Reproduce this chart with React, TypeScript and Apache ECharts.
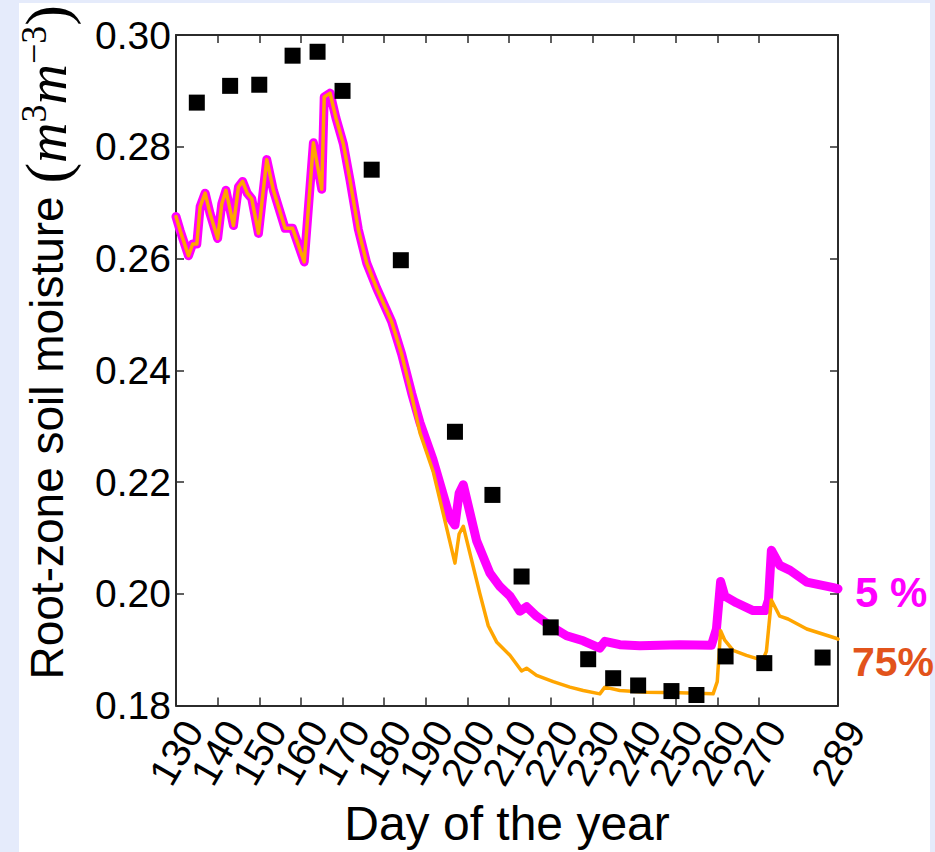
import React, { useEffect, useRef } from "react";
import * as echarts from "echarts";

// X tick positions and labels on the day axis
const xTickValues = [130, 140, 150, 160, 170, 180, 190, 200, 210, 220, 230, 240, 250, 260, 270, 289];
// labels split over two overlaid axes so ECharts does not drop overlapping rotated labels
const xLabelsA = [130, 150, 170, 190, 210, 230, 250, 270];
const xLabelsB = [140, 160, 180, 200, 220, 240, 260, 289];

// Observed root-zone soil moisture (black squares)
const obsDays = [135, 143, 150, 158, 164, 170, 177, 184, 197, 206, 213, 220, 229, 235, 241, 249, 255, 262, 271.3, 285.3];
const obsVals = [0.2879, 0.2909, 0.2911, 0.2963, 0.2970, 0.2900, 0.2759, 0.2597, 0.2290, 0.2177, 0.2031, 0.1940, 0.1883, 0.1849, 0.1836, 0.1826, 0.1819, 0.1888, 0.1876, 0.1886];

// Simulated part shared by both runs (days 130-184)
const sharedDays = [130, 131, 133, 134, 135, 135.8, 137, 138.2, 140, 141, 142, 143.8, 145, 146, 147.1, 148.2, 149.8, 151.8, 153.4, 156.2, 158, 160.8, 163, 165, 165.6, 167, 168.4, 170.2, 171.8, 173.8, 175.8, 178.2, 181.8, 184.2];
const sharedVals = [0.2675, 0.2650, 0.2605, 0.2626, 0.2626, 0.2693, 0.2717, 0.2680, 0.2636, 0.2698, 0.2722, 0.2659, 0.2728, 0.2738, 0.2717, 0.2707, 0.2645, 0.2777, 0.2722, 0.2654, 0.2654, 0.2594, 0.2807, 0.2724, 0.2889, 0.2896, 0.2852, 0.2805, 0.2740, 0.2652, 0.2592, 0.2547, 0.2487, 0.2429];

// 5 % run, after the shared part
const p5Days = [186.6, 188.6, 191.7, 195.8, 197, 198, 199, 202.2, 205.4, 207.8, 210.2, 212.6, 214.2, 216.6, 219.8, 223.8, 227.8, 231.8, 233, 236.6, 241.4, 251, 258.6, 259.8, 260.8, 261.8, 264.6, 268.6, 271.5, 272.3, 273, 275, 277.5, 281.5, 287.9, 289];
const p5Vals = [0.2359, 0.2306, 0.2241, 0.2136, 0.2123, 0.2180, 0.2195, 0.2095, 0.2037, 0.2013, 0.1996, 0.1969, 0.1977, 0.1960, 0.1943, 0.1925, 0.1916, 0.1903, 0.1915, 0.1909, 0.1907, 0.1909, 0.1908, 0.1937, 0.2022, 0.1996, 0.1984, 0.1970, 0.1970, 0.1989, 0.2078, 0.2051, 0.2042, 0.2021, 0.2011, 0.2009];

// 75 % run, after the shared part
const p75Days = [186.6, 188.6, 191.8, 194.2, 197, 198, 199, 203, 205, 207, 210.2, 213, 214.2, 216.6, 220.6, 224.6, 227.8, 231.8, 233, 236.6, 243, 251, 259, 260, 260.8, 261.8, 263.8, 267, 270.9, 271.8, 273, 275, 277, 281.5, 288.7, 289];
const p75Vals = [0.2355, 0.2288, 0.2218, 0.2143, 0.2055, 0.2107, 0.2121, 0.2000, 0.1943, 0.1914, 0.1890, 0.1862, 0.1867, 0.1854, 0.1843, 0.1833, 0.1827, 0.1821, 0.1833, 0.1827, 0.1824, 0.1823, 0.1821, 0.1843, 0.1934, 0.1917, 0.1899, 0.1890, 0.1881, 0.1897, 0.1989, 0.1960, 0.1955, 0.1937, 0.1920, 0.1919];

const pairs = (d: number[], v: number[]) => d.map((x, i) => [x, v[i]]);

const SANS = "'Liberation Sans', Arial, Helvetica, sans-serif";
const SERIF = "'Liberation Serif', 'DejaVu Serif', serif";
const AXIS_COLOR = "#2b2b2b";

export default function App() {
  const ref = useRef<HTMLDivElement>(null);
  useEffect(() => {
    if (!ref.current) return;
    const chart = echarts.init(ref.current, null, { renderer: "svg" });
    const tickBase = { show: true, inside: true, length: 8, lineStyle: { color: AXIS_COLOR, width: 1.5 } };
    const lineBase = { show: true, lineStyle: { color: AXIS_COLOR, width: 2 } };
    const xLabelBase = {
      showMinLabel: true,
      showMaxLabel: true,
      hideOverlap: false,
      rotate: 60,
      align: "center",
      verticalAlign: "middle",
      margin: 47,
      fontSize: 40,
      fontFamily: SANS,
      color: "#000",
    };
    chart.setOption({
      animation: false,
      backgroundColor: "transparent",
      grid: { left: 176, right: 97, top: 35, bottom: 134, containLabel: false },
      xAxis: [
        {
          type: "value",
          min: 130,
          max: 289,
          interval: 10,
          position: "bottom",
          axisLine: lineBase,
          axisTick: { ...tickBase, customValues: xTickValues },
          splitLine: { show: false },
          axisLabel: { ...xLabelBase, customValues: xLabelsA },
          name: "Day of the year",
          nameLocation: "middle",
          nameGap: 82,
          nameTextStyle: { fontSize: 48, fontFamily: SANS, color: "#000" },
        },
        {
          type: "value",
          min: 130,
          max: 289,
          interval: 10,
          position: "bottom",
          offset: 0,
          axisLine: { show: false },
          axisTick: { show: false },
          splitLine: { show: false },
          axisLabel: { ...xLabelBase, customValues: xLabelsB },
        },
        {
          type: "value",
          min: 130,
          max: 289,
          interval: 10,
          position: "top",
          axisLine: lineBase,
          axisTick: { ...tickBase, customValues: xTickValues },
          axisLabel: { show: false },
          splitLine: { show: false },
        },
      ],
      yAxis: [
        {
          type: "value",
          min: 0.18,
          max: 0.3,
          interval: 0.02,
          position: "left",
          axisLine: lineBase,
          axisTick: tickBase,
          splitLine: { show: false },
          axisLabel: {
            formatter: (v: number) => v.toFixed(2),
            showMinLabel: true,
            showMaxLabel: true,
            fontSize: 39,
            fontFamily: SANS,
            color: "#000",
            margin: 5,
          },
          name: "Root-zone soil moisture {p|(}{m|m}{s|3}{m|m}{s|−3}{p|)}",
          nameLocation: "middle",
          nameRotate: 90,
          nameGap: 98,
          nameTextStyle: {
            fontSize: 46,
            fontFamily: SANS,
            color: "#000",
            padding: [0, 0, 0, 56],
            rich: {
              p: { fontSize: 62, fontFamily: SERIF, color: "#000" },
              m: { fontSize: 56, fontFamily: SERIF, fontStyle: "italic", color: "#000" },
              s: { fontSize: 36, fontFamily: SERIF, color: "#000", verticalAlign: "top" },
            },
          },
        },
        {
          type: "value",
          min: 0.18,
          max: 0.3,
          interval: 0.02,
          position: "right",
          axisLine: lineBase,
          axisTick: tickBase,
          axisLabel: { show: false },
          splitLine: { show: false },
        },
      ],
      series: [
        {
          name: "5 %",
          type: "line",
          data: pairs(sharedDays, sharedVals).concat(pairs(p5Days, p5Vals)),
          showSymbol: false,
          symbol: "none",
          lineStyle: { color: "#ff00ff", width: 9, join: "round", cap: "round" },
          z: 2,
        },
        {
          name: "75%",
          type: "line",
          data: pairs(sharedDays, sharedVals).concat(pairs(p75Days, p75Vals)),
          showSymbol: false,
          symbol: "none",
          lineStyle: { color: "#ffa500", width: 3.5, join: "round", cap: "round" },
          z: 3,
        },
        {
          name: "Observed",
          type: "scatter",
          data: pairs(obsDays, obsVals),
          symbol: "rect",
          symbolSize: 16,
          itemStyle: { color: "#000", opacity: 1 },
          z: 4,
        },
      ],
      graphic: [
        {
          type: "text",
          left: 855,
          top: 571,
          style: { text: "5 %", fill: "#ff00ff", font: `bold 42px ${SANS}` },
        },
        {
          type: "text",
          left: 852,
          top: 641,
          style: { text: "75%", fill: "#e2531b", font: `bold 41px ${SANS}` },
        },
      ],
    });
    return () => chart.dispose();
  }, []);

  return (
    <div style={{ position: "fixed", left: 0, top: 0, width: 935, height: 852, background: "#e5ebfb", overflow: "hidden" }}>
      <div style={{ position: "absolute", left: 19, top: 3, width: 911, height: 849, background: "#ffffff" }} />
      <div ref={ref} style={{ position: "absolute", left: 0, top: 0, width: 935, height: 852 }} />
    </div>
  );
}
